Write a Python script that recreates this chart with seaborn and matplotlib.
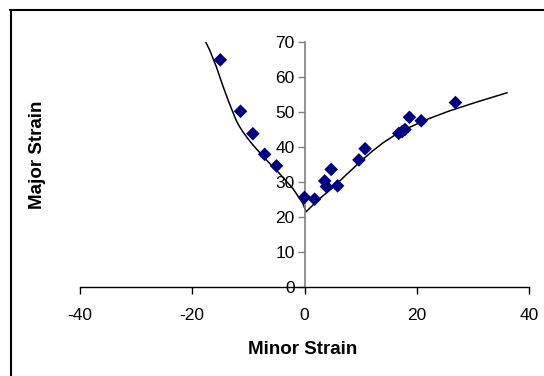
import matplotlib
matplotlib.use("Agg")
import matplotlib.pyplot as plt
import seaborn as sns
import pandas as pd
from matplotlib.lines import Line2D

sns.set_style("white")
plt.rcParams['font.family'] = ['Liberation Sans', 'DejaVu Sans']
plt.rcParams['axes.unicode_minus'] = False
plt.rcParams['text.color'] = 'black'

# measured points
minor_pts = [-15.0, -11.4, -9.2, -7.1, -5.0, 0.0, 1.8, 3.6, 3.9, 4.75, 5.9,
             9.7, 10.8, 16.8, 17.4, 17.9, 18.7, 20.8, 26.9]
major_pts = [64.9, 50.2, 43.8, 37.9, 34.6, 25.6, 25.1, 30.3, 28.7, 33.6, 28.9,
             36.3, 39.5, 43.9, 44.4, 45.0, 48.5, 47.5, 52.7]

# forming limit curve
curve_minor = [-18.0, -16.9, -15.7, -14.6, -13.4, -12.2, -11.6, -11.0, -10.1,
               -9.2, -6.8, -4.5, -2.1, -0.3, 0.3,
               2.5, 5.0, 7.4, 9.8, 12.0, 14.0, 16.3, 18.7, 22.0, 25.8, 30.8, 36.1]
curve_major = [71.3, 67.7, 62.9, 57.7, 52.5, 47.7, 45.9, 44.4, 42.4,
               40.6, 36.3, 32.5, 28.2, 23.9, 21.5,
               25.0, 28.3, 32.0, 35.6, 38.7, 41.2, 43.6, 45.6, 48.0, 50.3, 52.9, 55.5]

x_ticks = [-40, -20, 0, 20, 40]
y_ticks = [0, 10, 20, 30, 40, 50, 60, 70]

pts = pd.DataFrame({"minor": minor_pts, "major": major_pts})
crv = pd.DataFrame({"minor": curve_minor, "major": curve_major})

W, H = 544, 376
fig = plt.figure(figsize=(W / 100, H / 100), dpi=100)
ax = fig.add_axes([80 / W, 1 - 287 / H, (529 - 80) / W, (287 - 42) / H])

sns.lineplot(data=crv, x="minor", y="major", sort=False, color="black",
             linewidth=1.1, ax=ax, zorder=2)
sns.scatterplot(data=pts, x="minor", y="major", marker="D", color="#000080",
                s=48, edgecolor="none", ax=ax, zorder=3)

ax.set_xlim(-40, 40)
ax.set_ylim(0, 70)
ax.set_xticks(x_ticks)
ax.set_yticks(y_ticks)
ax.spines['left'].set_position(('data', 0))
ax.spines['left'].set_color('#808080')
ax.spines['left'].set_linewidth(1.2)
ax.spines['bottom'].set_color('black')
ax.spines['bottom'].set_linewidth(1.0)
ax.spines['right'].set_visible(False)
ax.spines['top'].set_visible(False)
ax.tick_params(axis='both', which='major', direction='out', length=5, width=1,
               labelsize=12.5, labelcolor='black', pad=2, bottom=True, left=True)
ax.tick_params(axis='y', color='#808080')
ax.tick_params(axis='x', color='black', pad=10)
ax.set_xlabel("")
ax.set_ylabel("")
ax.grid(False)

fig.text(303 / W, 1 - 349 / H, "Minor Strain", ha="center", va="center",
         fontsize=13.5, fontweight="bold", color="black")
fig.text(38 / W, 1 - 155 / H, "Major Strain", ha="center", va="center",
         rotation=90, fontsize=13.5, fontweight="bold", color="black")

# outer frame (top and left visible)
fig.add_artist(Line2D([10 / W, 1.0], [1 - 9.5 / H, 1 - 9.5 / H], color="black",
                      linewidth=1.5, transform=fig.transFigure))
fig.add_artist(Line2D([10.5 / W, 10.5 / W], [0, 1 - 9.5 / H], color="black",
                      linewidth=1.5, transform=fig.transFigure))

fig.savefig("out.png", dpi=100)
